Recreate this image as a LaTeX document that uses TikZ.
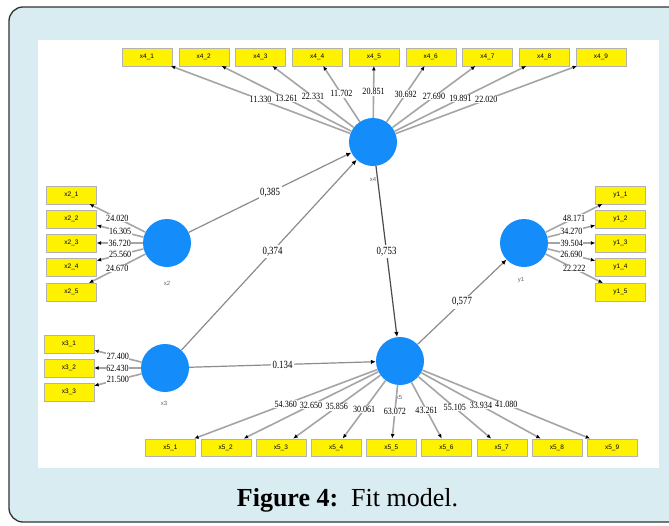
\documentclass[tikz,border=0pt]{standalone}
\usepackage{fontspec}
\setmainfont{Liberation Serif}
\newfontfamily\boxfont{Liberation Sans}
\usetikzlibrary{arrows.meta}
\definecolor{framebg}{RGB}{216,236,241}
\definecolor{latentblue}{RGB}{20,140,250}
\definecolor{loadgray}{RGB}{165,165,165}
\tikzset{
latent/.style = {circle, fill = latentblue, minimum size = 48pt, inner sep = 0pt},
item/.style = {draw = black!30, fill = yellow, minimum width = 50pt, minimum height = 17.5pt, inner sep = 0pt, font = \boxfont\fontsize{6.5}{6.5}\selectfont},
lvname/.style = {text = black!60, font = \boxfont\fontsize{6}{6}\selectfont},
loading/.style = {draw = loadgray, line width = 1.6pt, -{Latex[length = 4.5pt, width = 4pt, color = black]}},
coef/.style = {draw = black!45, line width = 1.2pt, -{Latex[length = 5pt, width = 4.5pt, color = black]}},
weight/.style = {fill = white, inner sep = 0.5pt, xscale = 0.85, font = \fontsize{9.5}{9.5}\selectfont},
beta/.style = {fill = white, inner sep = 2pt, xscale = 0.8, font = \fontsize{11}{11}\selectfont}
}
\begin{document}
\begin{tikzpicture}[x = 1pt, y = -1pt]
\useasboundingbox (0,0) rectangle (669,525);
\filldraw[fill = framebg, draw = black!80, line width = 1.3pt, rounded corners = 14pt] (9,7) rectangle (720,522);
\fill[white] (38,40) rectangle (659,468);
\node[anchor = base, font = \fontsize{26}{26}\selectfont] (caption) at (347.5,506) {\textbf{Figure 4:}\ \ Fit model.};
% latent variables
\node[latent] (x4) at (373,142) {};
\node[latent] (x2) at (167,243) {};
\node[latent] (x3) at (165,368) {};
\node[latent] (x5) at (400,361) {};
\node[latent] (y1) at (524,243) {};
\node[lvname] (x4name) at (373,179) {x4};
\node[lvname] (x2name) at (167,283) {x2};
\node[lvname] (x3name) at (164,403) {x3};
\node[lvname] (x5name) at (399,397) {x5};
\node[lvname] (y1name) at (521,280) {y1};
% indicators
\foreach \i in {1,...,9}
{
\node[item] (x4\i) at ({147+56.75*(\i-1)},57) {x4\_\i};
\node[item] (x5\i) at ({170.5+55.2*(\i-1)},447.5) {x5\_\i};
}
\foreach \i/\y in {1/195,2/219,3/243,4/267,5/292}
{
\node[item] (x2\i) at (71.5,\y) {x2\_\i};
\node[item] (y1\i) at (620.5,\y) {y1\_\i};
}
\foreach \i/\y in {1/344,2/368,3/392}
\node[item] (x3\i) at (69,\y) {x3\_\i};
% outer loadings
\foreach \i/\val in {1/11.330,2/13.261,3/22.331,4/11.702,5/20.851,6/30.692,7/27.690,8/19.891,9/22.020}
\draw[loading] (x4) -- (x4\i) node[weight, midway] {\val};
\foreach \i/\val in {1/54.360,2/32.650,3/35.856,4/30.061,5/63.072,6/43.261,7/55.105,8/33.934,9/41.080}
\draw[loading] (x5) -- (x5\i) node[weight, midway] {\val};
\foreach \i/\val in {1/24.020,2/16.305,3/36.720,4/25.560,5/24.670}
\draw[loading] (x2) -- (x2\i) node[weight, midway] {\val};
\foreach \i/\val in {1/48.171,2/34.270,3/39.504,4/26.690,5/22.222}
\draw[loading] (y1) -- (y1\i) node[weight, midway] {\val};
\foreach \i/\val in {1/27.400,2/62.430,3/21.500}
\draw[loading] (x3) -- (x3\i) node[weight, midway] {\val};
% path coefficients
\draw[coef] (x2) -- (x4) node[beta, midway] {0,385};
\draw[coef] (x3) -- (x4) node[beta, pos = 0.52] {0,374};
\draw[coef, draw = black!70] (x4) -- (x5) node[beta, midway] {0,753};
\draw[coef] (x3) -- (x5) node[beta, midway] {0.134};
\draw[coef] (x5) -- (y1) node[beta, midway] {0,577};
\end{tikzpicture}
\end{document}
